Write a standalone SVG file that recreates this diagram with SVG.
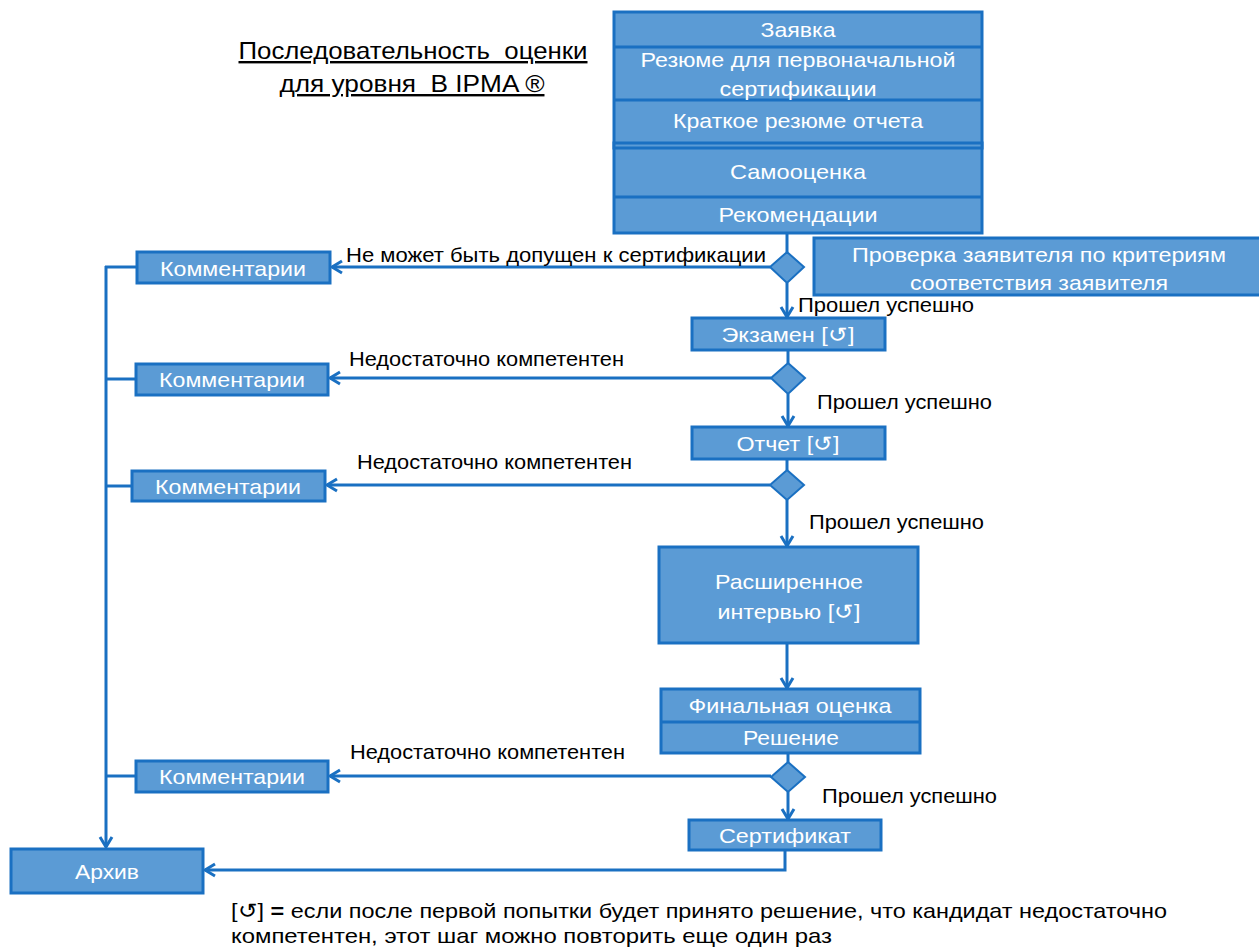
<svg xmlns="http://www.w3.org/2000/svg" width="1259" height="949" viewBox="0 0 1259 949">
<defs>
<style>
.box{fill:#5b9bd5;stroke:#1a70c2;stroke-width:3}
.dia{fill:#5b9bd5;stroke:#1a70c2;stroke-width:2}
.sep{stroke:#1a70c2;stroke-width:3}
.wt{font-family:"Liberation Sans",Arial,sans-serif;font-size:21px;fill:#ffffff;text-anchor:middle}
.bt{font-family:"Liberation Sans",Arial,sans-serif;font-size:21px;fill:#000000}
.ttl{font-family:"Liberation Sans",Arial,sans-serif;font-size:24px;fill:#000000;text-anchor:middle;text-decoration:underline;white-space:pre}
.ln{fill:none;stroke:#1a70c2;stroke-width:3}
.arr{fill:none;stroke:#1a70c2;stroke-width:3;marker-end:url(#ah)}
</style>
<marker id="ah" viewBox="0 0 14 16" refX="12" refY="8" markerWidth="14" markerHeight="16" markerUnits="userSpaceOnUse" orient="auto">
<path d="M2,2 L12,8 L2,14" fill="none" stroke="#1a70c2" stroke-width="3"/>
</marker>
</defs>
<rect width="1259" height="949" fill="#ffffff"/>

<g id="title">
<text class="ttl" x="413" y="59" textLength="349" lengthAdjust="spacingAndGlyphs" xml:space="preserve">Последовательность  оценки</text>
<text class="ttl" x="412" y="92" textLength="265" lengthAdjust="spacingAndGlyphs" xml:space="preserve">для уровня  В IPMA ®</text>
</g>

<g id="connectors">
<line class="ln" x1="787" y1="234" x2="787" y2="252"/>
<line class="arr" x1="787" y1="283" x2="787" y2="317"/>
<line class="ln" x1="788" y1="350" x2="788" y2="363"/>
<line class="arr" x1="788" y1="394" x2="788" y2="426"/>
<line class="ln" x1="787" y1="459" x2="787" y2="470"/>
<line class="arr" x1="787" y1="500" x2="787" y2="546"/>
<line class="arr" x1="787" y1="643" x2="787" y2="688"/>
<line class="ln" x1="788" y1="753" x2="788" y2="762"/>
<line class="arr" x1="788" y1="792" x2="788" y2="819"/>
<polyline class="arr" points="785,850 785,870 205,870"/>
<line class="arr" x1="770" y1="267" x2="332" y2="267"/>
<line class="arr" x1="771" y1="378" x2="330" y2="378"/>
<line class="arr" x1="770" y1="485" x2="327" y2="485"/>
<line class="arr" x1="771" y1="776" x2="330" y2="776"/>
<line class="arr" x1="106" y1="266" x2="106" y2="847"/>
<line class="ln" x1="105" y1="267" x2="137" y2="267"/>
<line class="ln" x1="105" y1="379" x2="136" y2="379"/>
<line class="ln" x1="105" y1="486" x2="132" y2="486"/>
<line class="ln" x1="105" y1="776" x2="136" y2="776"/>
</g>

<g id="labels">
<text class="bt" x="346" y="262" textLength="420" lengthAdjust="spacingAndGlyphs">Не может быть допущен к сертификации</text>
<text class="bt" x="798" y="312" textLength="176" lengthAdjust="spacingAndGlyphs">Прошел успешно</text>
<text class="bt" x="349" y="366" textLength="275" lengthAdjust="spacingAndGlyphs">Недостаточно компетентен</text>
<text class="bt" x="817" y="409" textLength="175" lengthAdjust="spacingAndGlyphs">Прошел успешно</text>
<text class="bt" x="357" y="469" textLength="275" lengthAdjust="spacingAndGlyphs">Недостаточно компетентен</text>
<text class="bt" x="809" y="529" textLength="175" lengthAdjust="spacingAndGlyphs">Прошел успешно</text>
<text class="bt" x="350" y="759" textLength="275" lengthAdjust="spacingAndGlyphs">Недостаточно компетентен</text>
<text class="bt" x="822" y="803" textLength="175" lengthAdjust="spacingAndGlyphs">Прошел успешно</text>
</g>

<g id="application-stack">
<rect class="box" x="614" y="12" width="368" height="221"/>
<line class="sep" x1="614" y1="47" x2="982" y2="47"/>
<line class="sep" x1="614" y1="100" x2="982" y2="100"/>
<rect class="box" x="614" y="143" width="368" height="5" fill="#1a70c2"/>
<line class="sep" x1="614" y1="197" x2="982" y2="197"/>
<text class="wt" x="798" y="37" textLength="75" lengthAdjust="spacingAndGlyphs">Заявка</text>
<text class="wt" x="798" y="67" textLength="315" lengthAdjust="spacingAndGlyphs">Резюме для первоначальной</text>
<text class="wt" x="798" y="96" textLength="157" lengthAdjust="spacingAndGlyphs">сертификации</text>
<text class="wt" x="798" y="128" textLength="250" lengthAdjust="spacingAndGlyphs">Краткое резюме отчета</text>
<text class="wt" x="798" y="179" textLength="136" lengthAdjust="spacingAndGlyphs">Самооценка</text>
<text class="wt" x="798" y="222" textLength="159" lengthAdjust="spacingAndGlyphs">Рекомендации</text>
</g>

<g id="check">
<rect class="box" x="814" y="238" width="450" height="57"/>
<text class="wt" x="1039" y="262" textLength="374" lengthAdjust="spacingAndGlyphs">Проверка заявителя по критериям</text>
<text class="wt" x="1039" y="290" textLength="258" lengthAdjust="spacingAndGlyphs">соответствия заявителя</text>
</g>

<g id="d1"><polygon class="dia" points="787,252 804,267 787,283 770,267"/></g>
<g id="d2"><polygon class="dia" points="788,363 805,378 788,394 771,378"/></g>
<g id="d3"><polygon class="dia" points="787,470 804,485 787,500 770,485"/></g>
<g id="d4"><polygon class="dia" points="788,762 805,777 788,792 771,777"/></g>

<g id="exam">
<rect class="box" x="692" y="318" width="193" height="32"/>
<text class="wt" x="788" y="342" textLength="133" lengthAdjust="spacingAndGlyphs">Экзамен [↺]</text>
</g>
<g id="report">
<rect class="box" x="692" y="427" width="193" height="32"/>
<text class="wt" x="788" y="451" textLength="103" lengthAdjust="spacingAndGlyphs">Отчет [↺]</text>
</g>
<g id="interview">
<rect class="box" x="659" y="547" width="259" height="96"/>
<text class="wt" x="789" y="589" textLength="148" lengthAdjust="spacingAndGlyphs">Расширенное</text>
<text class="wt" x="789" y="619" textLength="143" lengthAdjust="spacingAndGlyphs">интервью [↺]</text>
</g>
<g id="final">
<rect class="box" x="661" y="689" width="259" height="64"/>
<line class="sep" x1="661" y1="722" x2="920" y2="722"/>
<text class="wt" x="790" y="713" textLength="203" lengthAdjust="spacingAndGlyphs">Финальная оценка</text>
<text class="wt" x="791" y="745" textLength="96" lengthAdjust="spacingAndGlyphs">Решение</text>
</g>
<g id="certificate">
<rect class="box" x="689" y="820" width="192" height="30"/>
<text class="wt" x="785" y="843" textLength="132" lengthAdjust="spacingAndGlyphs">Сертификат</text>
</g>
<g id="archive">
<rect class="box" x="11" y="849" width="192" height="44"/>
<text class="wt" x="107" y="879" textLength="64" lengthAdjust="spacingAndGlyphs">Архив</text>
</g>

<g id="comments1">
<rect class="box" x="137" y="252" width="193" height="31"/>
<text class="wt" x="233" y="276" textLength="146" lengthAdjust="spacingAndGlyphs">Комментарии</text>
</g>
<g id="comments2">
<rect class="box" x="136" y="364" width="192" height="31"/>
<text class="wt" x="232" y="387" textLength="146" lengthAdjust="spacingAndGlyphs">Комментарии</text>
</g>
<g id="comments3">
<rect class="box" x="132" y="471" width="193" height="30"/>
<text class="wt" x="228" y="494" textLength="146" lengthAdjust="spacingAndGlyphs">Комментарии</text>
</g>
<g id="comments4">
<rect class="box" x="136" y="761" width="192" height="31"/>
<text class="wt" x="232" y="784" textLength="146" lengthAdjust="spacingAndGlyphs">Комментарии</text>
</g>

<g id="footnote">
<text class="bt" x="231" y="918" textLength="936" lengthAdjust="spacingAndGlyphs">[↺] <tspan font-weight="bold">=</tspan> если после первой попытки будет принято решение, что кандидат недостаточно</text>
<text class="bt" x="231" y="943" textLength="601" lengthAdjust="spacingAndGlyphs">компетентен, этот шаг можно повторить еще один раз</text>
</g>
</svg>
